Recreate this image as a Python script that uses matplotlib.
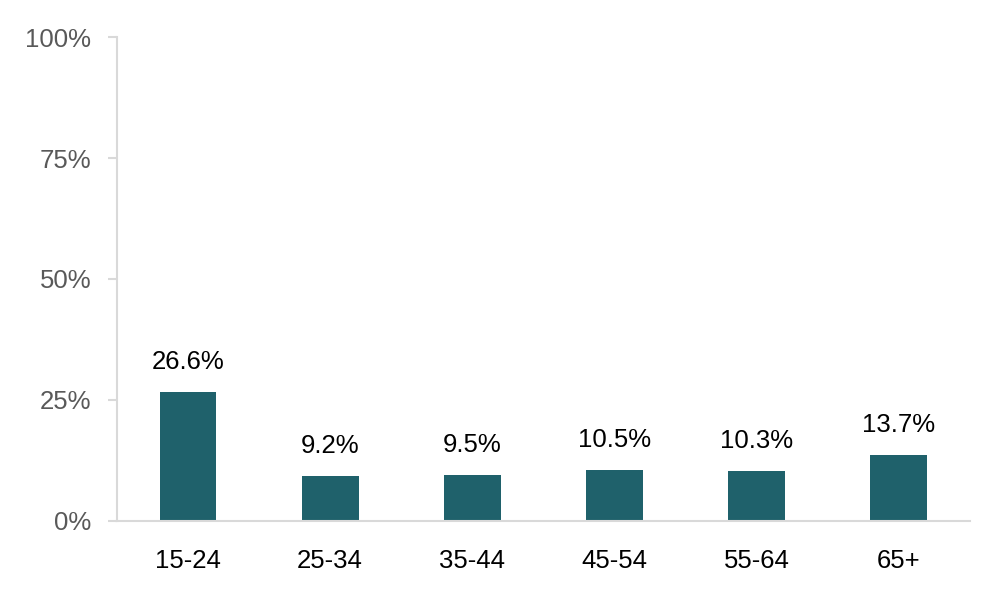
import matplotlib
matplotlib.use('Agg')
from matplotlib import pyplot as plt
from matplotlib.ticker import FuncFormatter

# age groups and shares (%)
age_groups = ['15-24', '25-34', '35-44', '45-54', '55-64', '65+']
shares = [26.6, 9.2, 9.5, 10.5, 10.3, 13.7]
y_ticks = [0, 25, 50, 75, 100]

bar_color = '#1F616B'
axis_color = '#D9D9D9'

plt.rcParams['font.family'] = ['Liberation Sans', 'DejaVu Sans']

fig = plt.figure(figsize=(10.08, 6), dpi=100)
ax = fig.add_axes([0.116, 0.1317, 0.846, 0.8066])

x = range(len(age_groups))
bars = ax.bar(x, shares, width=0.4, color=bar_color)

# value labels above bars
for xi, val in zip(x, shares):
    ax.annotate(f'{val:.1f}%', (xi, val), xytext=(0, 13), textcoords='offset points',
                ha='center', va='bottom', fontsize=18.5, color='black')

ax.set_xlim(-0.5, len(age_groups) - 0.5)
ax.set_ylim(0, 100)
ax.set_yticks(y_ticks)
ax.yaxis.set_major_formatter(FuncFormatter(lambda v, p: f'{v:.0f}%'))
ax.set_xticks(list(x))
ax.set_xticklabels(age_groups)

for side in ['top', 'right']:
    ax.spines[side].set_visible(False)
for side in ['left', 'bottom']:
    ax.spines[side].set_color(axis_color)
    ax.spines[side].set_linewidth(1.5)

ax.tick_params(axis='y', length=6.5, width=1.5, color=axis_color, labelsize=18.5,
               labelcolor='#595959', pad=12)
ax.tick_params(axis='x', length=0, labelsize=18.5, labelcolor='black', pad=20)

plt.savefig('out.png', dpi=100)
